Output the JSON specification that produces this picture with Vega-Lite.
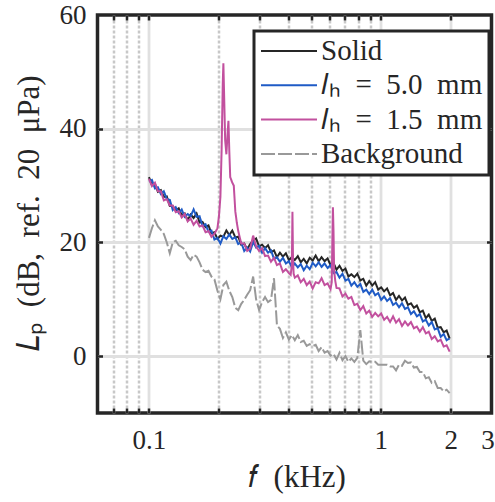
{
  "$schema": "https://vega.github.io/schema/vega-lite/v6.json",
  "width": 394,
  "height": 398,
  "autosize": {"type": "none"},
  "padding": {"left": 97.5, "top": 15, "right": 3.5, "bottom": 89},
  "background": "white",
  "config": {
    "view": {"stroke": "#262626", "strokeWidth": 3.5},
    "axis": {"labelFont": "Liberation Serif", "titleFont": "Liberation Serif"},
    "legend": {"labelFont": "Liberation Serif"}
  },
  "resolve": {"axis": {"x": "independent", "y": "independent"}},
  "layer": [
    {
      "data": {"values": [
        {"f":0.1,"a":31.5,"b":30.7,"c":31.2,"d":20.8},
        {"f":0.103,"a":30.1,"b":31.0,"c":29.9,"d":22.5},
        {"f":0.1061,"a":30.3,"b":29.5,"c":30.5,"d":23.9},
        {"f":0.1093,"a":28.9,"b":29.7,"c":29.0,"d":22.8},
        {"f":0.1126,"a":29.2,"b":28.5,"c":29.0,"d":22.2},
        {"f":0.1159,"a":28.0,"b":29.0,"c":27.4,"d":21.5},
        {"f":0.1194,"a":28.1,"b":27.6,"c":27.6,"d":20.0},
        {"f":0.123,"a":26.4,"b":27.5,"c":26.5,"d":18.1},
        {"f":0.1267,"a":26.4,"b":25.7,"c":26.5,"d":20.0},
        {"f":0.1305,"a":25.6,"b":26.2,"c":25.3,"d":20.3},
        {"f":0.1344,"a":26.0,"b":25.2,"c":25.5,"d":19.5},
        {"f":0.1384,"a":24.8,"b":25.8,"c":24.4,"d":19.2},
        {"f":0.1426,"a":25.1,"b":24.5,"c":25.0,"d":18.8},
        {"f":0.1469,"a":23.9,"b":25.0,"c":23.7,"d":17.5},
        {"f":0.1513,"a":24.9,"b":24.6,"c":24.2,"d":16.9},
        {"f":0.1558,"a":24.3,"b":25.8,"c":23.1,"d":17.8},
        {"f":0.1605,"a":25.1,"b":24.5,"c":23.8,"d":17.5},
        {"f":0.1653,"a":23.5,"b":24.6,"c":22.8,"d":16.5},
        {"f":0.1702,"a":23.6,"b":22.9,"c":23.0,"d":15.2},
        {"f":0.1754,"a":22.7,"b":23.2,"c":21.8,"d":14.8},
        {"f":0.1806,"a":23.0,"b":21.9,"c":22.0,"d":15.0},
        {"f":0.186,"a":21.6,"b":22.1,"c":21.0,"d":14.0},
        {"f":0.1916,"a":21.8,"b":20.5,"c":21.5,"d":13.5},
        {"f":0.1974,"a":20.6,"b":20.8,"c":22.5,"d":11.5},
        {"f":0.2033,"a":21.2,"b":19.8,"c":28.0,"d":10.0},
        {"f":0.2094,"a":21.0,"b":21.1,"c":51.5,"d":12.5},
        {"f":0.2157,"a":22.1,"b":20.6,"c":35.5,"d":13.1},
        {"f":0.2221,"a":21.3,"b":21.4,"c":36.0,"d":11.5},
        {"f":0.2288,"a":22.1,"b":20.6,"c":30.5,"d":10.4},
        {"f":0.2357,"a":20.9,"b":20.9,"c":25.5,"d":8.5},
        {"f":0.2427,"a":21.0,"b":19.7,"c":22.0,"d":8.1},
        {"f":0.25,"a":19.6,"b":20.0,"c":19.8,"d":9.2},
        {"f":0.2575,"a":19.8,"b":18.5,"c":19.8,"d":9.9},
        {"f":0.2652,"a":18.8,"b":19.1,"c":18.5,"d":10.8},
        {"f":0.2732,"a":19.7,"b":18.4,"c":18.9,"d":11.6},
        {"f":0.2814,"a":20.3,"b":20.1,"c":21.2,"d":14.0},
        {"f":0.2898,"a":20.7,"b":19.1,"c":19.3,"d":10.0},
        {"f":0.2985,"a":19.3,"b":19.4,"c":18.5,"d":8.1},
        {"f":0.3075,"a":19.6,"b":18.2,"c":19.0,"d":9.5},
        {"f":0.3167,"a":19.0,"b":19.0,"c":17.6,"d":10.4},
        {"f":0.3262,"a":19.5,"b":18.2,"c":17.7,"d":9.5},
        {"f":0.336,"a":18.3,"b":18.6,"c":16.6,"d":9.9},
        {"f":0.3461,"a":18.6,"b":17.1,"c":17.3,"d":13.7},
        {"f":0.3564,"a":17.4,"b":17.4,"c":16.0,"d":5.4},
        {"f":0.3671,"a":18.2,"b":16.6,"c":16.3,"d":4.8},
        {"f":0.3782,"a":17.5,"b":17.3,"c":14.8,"d":3.2},
        {"f":0.3895,"a":18.1,"b":16.3,"c":15.3,"d":4.2},
        {"f":0.4012,"a":16.9,"b":16.7,"c":14.6,"d":2.9},
        {"f":0.4132,"a":17.4,"b":15.6,"c":16.0,"d":3.7},
        {"f":0.4256,"a":16.9,"b":16.3,"c":13.8,"d":2.8},
        {"f":0.4384,"a":17.6,"b":15.6,"c":14.2,"d":3.7},
        {"f":0.4515,"a":16.5,"b":16.2,"c":13.0,"d":2.5},
        {"f":0.4651,"a":17.1,"b":15.1,"c":13.6,"d":2.7},
        {"f":0.479,"a":16.3,"b":15.9,"c":12.5,"d":1.8},
        {"f":0.4934,"a":17.3,"b":15.3,"c":13.1,"d":2.1},
        {"f":0.5082,"a":16.8,"b":16.4,"c":11.9,"d":1.8},
        {"f":0.5235,"a":17.7,"b":15.8,"c":13.0,"d":2.0},
        {"f":0.5392,"a":16.7,"b":16.5,"c":12.8,"d":0.9},
        {"f":0.5553,"a":17.4,"b":15.7,"c":13.7,"d":1.6},
        {"f":0.572,"a":16.7,"b":16.3,"c":12.5,"d":0.6},
        {"f":0.5892,"a":17.2,"b":15.5,"c":12.8,"d":0.9},
        {"f":0.6068,"a":16.0,"b":16.0,"c":11.8,"d":0.1},
        {"f":0.625,"a":16.4,"b":14.6,"c":22.0,"d":0.4},
        {"f":0.6438,"a":15.2,"b":14.8,"c":12.0,"d":-0.6},
        {"f":0.6631,"a":15.9,"b":13.8,"c":11.9,"d":0.6},
        {"f":0.683,"a":15.0,"b":14.5,"c":10.5,"d":-0.7},
        {"f":0.7035,"a":15.4,"b":13.3,"c":11.0,"d":0.0},
        {"f":0.7246,"a":14.0,"b":13.6,"c":10.1,"d":-1.0},
        {"f":0.7463,"a":14.4,"b":12.4,"c":10.4,"d":-0.4},
        {"f":0.7687,"a":13.9,"b":13.0,"c":9.0,"d":-1.0},
        {"f":0.7918,"a":14.5,"b":12.2,"c":9.2,"d":-0.3},
        {"f":0.8155,"a":13.3,"b":12.7,"c":8.1,"d":4.6},
        {"f":0.84,"a":13.6,"b":11.3,"c":8.8,"d":-0.8},
        {"f":0.8652,"a":12.4,"b":11.7,"c":7.5,"d":-1.4},
        {"f":0.8912,"a":13.2,"b":10.9,"c":8.0,"d":-0.9},
        {"f":0.9179,"a":12.4,"b":11.7,"c":6.9,"d":-1.0},
        {"f":0.9454,"a":13.0,"b":10.7,"c":7.6,"d":-1.0},
        {"f":0.9738,"a":11.7,"b":11.1,"c":7.0,"d":-1.5},
        {"f":1.003,"a":12.1,"b":9.9,"c":7.5,"d":-1.5},
        {"f":1.0331,"a":11.4,"b":10.5,"c":6.4,"d":-1.5},
        {"f":1.0641,"a":11.9,"b":9.7,"c":6.9,"d":-1.5},
        {"f":1.096,"a":10.7,"b":10.2,"c":6.0,"d":-1.8},
        {"f":1.1289,"a":11.1,"b":9.0,"c":7.0,"d":-1.8},
        {"f":1.1627,"a":9.9,"b":9.4,"c":5.9,"d":-2.5},
        {"f":1.1976,"a":10.6,"b":8.6,"c":6.5,"d":-1.5},
        {"f":1.2336,"a":9.8,"b":9.3,"c":5.3,"d":-1.7},
        {"f":1.2706,"a":10.3,"b":8.3,"c":6.1,"d":-0.8},
        {"f":1.3087,"a":9.0,"b":8.6,"c":5.4,"d":-1.2},
        {"f":1.348,"a":9.3,"b":7.4,"c":6.0,"d":-1.1},
        {"f":1.3884,"a":8.5,"b":7.9,"c":4.9,"d":-2.0},
        {"f":1.43,"a":8.9,"b":7.0,"c":5.2,"d":-1.9},
        {"f":1.4729,"a":7.7,"b":7.4,"c":4.3,"d":-2.8},
        {"f":1.5171,"a":8.0,"b":6.1,"c":5.1,"d":-2.8},
        {"f":1.5627,"a":6.7,"b":6.4,"c":4.0,"d":-3.9},
        {"f":1.6095,"a":7.3,"b":5.4,"c":4.3,"d":-3.7},
        {"f":1.6578,"a":6.2,"b":6.0,"c":3.0,"d":-4.7},
        {"f":1.7076,"a":6.6,"b":4.7,"c":3.5,"d":-4.4},
        {"f":1.7588,"a":5.0,"b":4.9,"c":2.6,"d":-5.6},
        {"f":1.8116,"a":5.1,"b":3.4,"c":2.9,"d":-5.6},
        {"f":1.8659,"a":4.2,"b":3.9,"c":1.7,"d":-6.2},
        {"f":1.9219,"a":4.5,"b":2.8,"c":1.9,"d":-5.9},
        {"f":1.9796,"a":3.1,"b":3.1,"c":0.8,"d":-6.5},
        {"f":0.2003,"c":24.5},
        {"f":0.2057,"c":36},
        {"f":0.2081,"c":48},
        {"f":0.2112,"c":45},
        {"f":0.2131,"c":38},
        {"f":0.2182,"c":39},
        {"f":0.2202,"c":41.4},
        {"f":0.2241,"c":31.5},
        {"f":0.2322,"c":30},
        {"f":0.2392,"c":23.5},
        {"f":0.4084,"c":14.3},
        {"f":0.4157,"c":25.4},
        {"f":0.4181,"c":17},
        {"f":0.4206,"c":14.5},
        {"f":0.614,"c":13},
        {"f":0.6176,"c":20},
        {"f":0.6213,"c":26.2},
        {"f":0.6287,"c":15},
        {"f":0.6361,"c":13.2}
      ]},
      "transform": [
        {"fold": ["a", "b", "c", "d"], "as": ["s", "L"]},
        {"filter": "isValid(datum.L)"}
      ],
      "mark": {"type": "line", "strokeWidth": 2},
      "encoding": {
        "x": {
          "field": "f", "type": "quantitative",
          "scale": {"type": "log", "domain": [0.06, 3], "nice": false},
          "axis": {
            "orient": "bottom",
            "values": [0.07, 0.08, 0.09, 0.1, 0.2, 0.3, 0.4, 0.5, 0.6, 0.7, 0.8, 0.9, 1, 2, 3],
            "labelExpr": "(datum.value==0.1||datum.value==1||datum.value==2||datum.value==3) ? format(datum.value,'~g') : ''",
            "labelFontSize": 27, "labelColor": "#262626", "labelPadding": 35,
            "labelOffset": {"condition": {"test": "datum.value==3", "value": -4}, "value": 0},
            "labelBaseline": "alphabetic", "labelFlush": false, "labelOverlap": false,
            "domain": false, "ticks": false,
            "grid": true,
            "gridColor": {"condition": {"test": "datum.value==0.1||datum.value==1||datum.value==2", "value": "#e0e0e0"}, "value": "#c8c8c8"},
            "gridDash": {"condition": {"test": "datum.value==0.1||datum.value==1||datum.value==2", "value": []}, "value": [3, 2]},
            "gridWidth": {"condition": {"test": "datum.value==0.1||datum.value==1||datum.value==2", "value": 2.8}, "value": 2.5},
            "gridOpacity": {"condition": {"test": "datum.value==3", "value": 0}, "value": 1},
            "title": "𝑓\u2002(kHz)", "titleFontSize": 31, "titleFontWeight": "normal", "titleColor": "#262626",
            "titleBaseline": "alphabetic", "titleX": 199, "titleY": 73
          }
        },
        "y": {
          "field": "L", "type": "quantitative",
          "scale": {"domain": [-10, 60], "nice": false, "zero": false},
          "axis": {
            "orient": "left",
            "values": [0, 20, 40, 60],
            "labelFontSize": 27, "labelColor": "#262626", "labelPadding": 11.5,
            "domain": false, "ticks": false,
            "grid": true, "gridColor": "#e0e0e0", "gridWidth": 2.8,
            "gridOpacity": {"condition": {"test": "datum.value==60", "value": 0}, "value": 1},
            "title": "𝐿ₚ\u2002(dB,\u2002ref.\u200220\u2002μPa)", "titleFontSize": 31, "titleFontWeight": "normal", "titleColor": "#262626",
            "titleBaseline": "alphabetic", "titleX": -59, "titleY": 198, "titleAngle": 270
          }
        },
        "color": {
          "field": "s", "type": "nominal",
          "scale": {"domain": ["a", "b", "c", "d"], "range": ["#262626", "#1f5bc6", "#c2509e", "#999999"]},
          "legend": {
            "orient": "none", "legendX": 156.5, "legendY": 16,
            "title": null,
            "labelExpr": "datum.value=='a' ? 'Solid' : datum.value=='b' ? '𝑙ₕ\u2002=\u20025.0\u2002mm' : datum.value=='c' ? '𝑙ₕ\u2002=\u20021.5\u2002mm' : 'Background'",
            "labelFontSize": 29, "labelColor": "#262626", "labelLimit": 400, "labelOffset": 3,
            "symbolType": "stroke", "symbolSize": 3136, "symbolStrokeWidth": 2,
            "clipHeight": 28, "rowPadding": 5.3, "padding": 6,
            "strokeColor": "#262626", "fillColor": "white",
            "encode": {
              "legend": {"update": {"strokeWidth": {"value": 3}}},
              "symbols": {"update": {"strokeDash": {"signal": "datum.value=='d' ? [12,7] : [1,0]"}}}
            }
          }
        },
        "strokeDash": {
          "field": "s", "type": "nominal",
          "scale": {"domain": ["a", "b", "c", "d"], "range": [[1, 0], [1, 0], [1, 0], [14, 3]]},
          "legend": null
        }
      }
    },
    {
      "data": {"values": [{"f": 0.1, "L": 0}]},
      "mark": {"type": "point", "opacity": 0},
      "encoding": {
        "x": {
          "field": "f", "type": "quantitative",
          "axis": {
            "orient": "top", "offset": -5, "values": [0.07, 0.08, 0.09, 0.1, 0.2, 0.3, 0.4, 0.5, 0.6, 0.7, 0.8, 0.9, 1, 2],
            "labels": false, "domain": false, "grid": false, "title": null,
            "ticks": true, "tickColor": "#262626", "tickWidth": 2.5, "tickSize": 5
          }
        },
        "y": {
          "field": "L", "type": "quantitative",
          "axis": {
            "orient": "right", "offset": -5, "values": [0, 20, 40],
            "labels": false, "domain": false, "grid": false, "title": null,
            "ticks": true, "tickColor": "#262626", "tickWidth": 2.5, "tickSize": 5
          }
        }
      }
    },
    {
      "data": {"values": [{"f": 0.1, "L": 0}]},
      "mark": {"type": "point", "opacity": 0},
      "encoding": {
        "x": {
          "field": "f", "type": "quantitative",
          "axis": {
            "orient": "bottom", "offset": -5, "values": [0.07, 0.08, 0.09, 0.1, 0.2, 0.3, 0.4, 0.5, 0.6, 0.7, 0.8, 0.9, 1, 2],
            "labels": false, "domain": false, "grid": false, "title": null,
            "ticks": true, "tickColor": "#262626", "tickWidth": 2.5, "tickSize": 5
          }
        },
        "y": {
          "field": "L", "type": "quantitative",
          "axis": {
            "orient": "left", "offset": -5, "values": [0, 20, 40],
            "labels": false, "domain": false, "grid": false, "title": null,
            "ticks": true, "tickColor": "#262626", "tickWidth": 2.5, "tickSize": 5
          }
        }
      }
    }
  ]
}
